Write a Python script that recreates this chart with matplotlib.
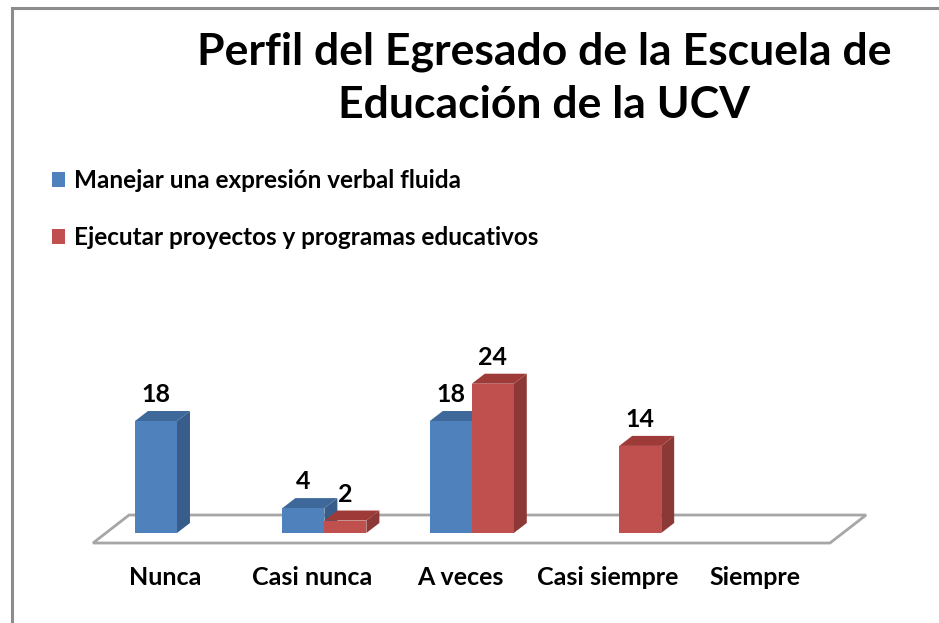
import matplotlib
matplotlib.use("Agg")
import matplotlib.pyplot as plt
from matplotlib.patches import Polygon, Rectangle, Patch

categories = ["Nunca", "Casi nunca", "A veces", "Casi siempre", "Siempre"]
series_names = ["Manejar una expresión verbal fluida",
                "Ejecutar proyectos y programas educativos"]
verbal = [18, 4, 18, None, None]
proyectos = [None, 2, 24, 14, None]

TITLE = "Perfil del Egresado de la Escuela de\nEducación de la UCV"
FONT = ["Lato", "DejaVu Sans"]

# colours: front, top, side
COLS = [("#4F81BD", "#3D6899", "#385D8A"),
        ("#C0504D", "#9E3B38", "#8C3836")]

W = 0.285        # bar width (category units)
DX, DY = 0.088, 1.61   # 3d depth offset of a bar

plt.rcParams["font.family"] = FONT

fig = plt.figure(figsize=(9.39, 6.23), dpi=100)
ax = fig.add_axes([0, 0, 1, 1])
ax.set_xlim(-1.2008, 5.1696)
ax.set_ylim(-14.47, 85.69)
ax.axis("off")

# outer chart frame (cut off at right / bottom like the screenshot)
fig.patches.append(Rectangle((12 / 939, -0.1), 1.2, 1 - 8 / 623 + 0.1,
                             transform=fig.transFigure, fill=False,
                             edgecolor="#8c8c8c", lw=2.2))

# floor
n = len(categories)
fx0, fy0 = -0.57, -1.61
ddx, ddy = 0.245, 4.5
floor = Polygon([(fx0, fy0), (fx0 + n, fy0), (fx0 + n + ddx, fy0 + ddy),
                 (fx0 + ddx, fy0 + ddy)], closed=True, facecolor="white",
                edgecolor="#a6a6a6", lw=2.0, zorder=1)
ax.add_patch(floor)

for i in range(n):
    for s, vals in enumerate([verbal, proyectos]):
        v = vals[i]
        if v is None:
            continue
        front, top, side = COLS[s]
        x0 = i - W + s * W
        ax.add_patch(Polygon([(x0 + W, 0), (x0 + W + DX, DY),
                              (x0 + W + DX, v + DY), (x0 + W, v)],
                             closed=True, facecolor=side, lw=0, zorder=3))
        ax.add_patch(Polygon([(x0, v), (x0 + W, v), (x0 + W + DX, v + DY),
                              (x0 + DX, v + DY)],
                             closed=True, facecolor=top, lw=0, zorder=3))
        ax.add_patch(Rectangle((x0, 0), W, v, facecolor=front, lw=0, zorder=3))
        ax.text(x0 + W / 2, v + 4.2, str(v), ha="center", va="center",
                fontsize=18, fontweight="bold", color="black", zorder=5)

for i, c in enumerate(categories):
    ax.text(i - 0.08, -7.23, c, ha="center", va="center", fontsize=18,
            fontweight="bold", color="black")

fig.text(544 / 939, 1 - 78 / 623, TITLE, ha="center", va="center",
         fontsize=32, fontweight="bold", linespacing=1.4)

handles = [Patch(facecolor=COLS[k][0], edgecolor="none") for k in range(2)]
fig.legend(handles, series_names, loc="upper left",
           bbox_to_anchor=(30 / 939, 1 - 147 / 623), frameon=False,
           prop={"size": 17.5, "weight": "bold"}, handlelength=0.55,
           handleheight=0.55, handletextpad=0.35, labelspacing=1.4)

fig.savefig("out.png", dpi=100)
